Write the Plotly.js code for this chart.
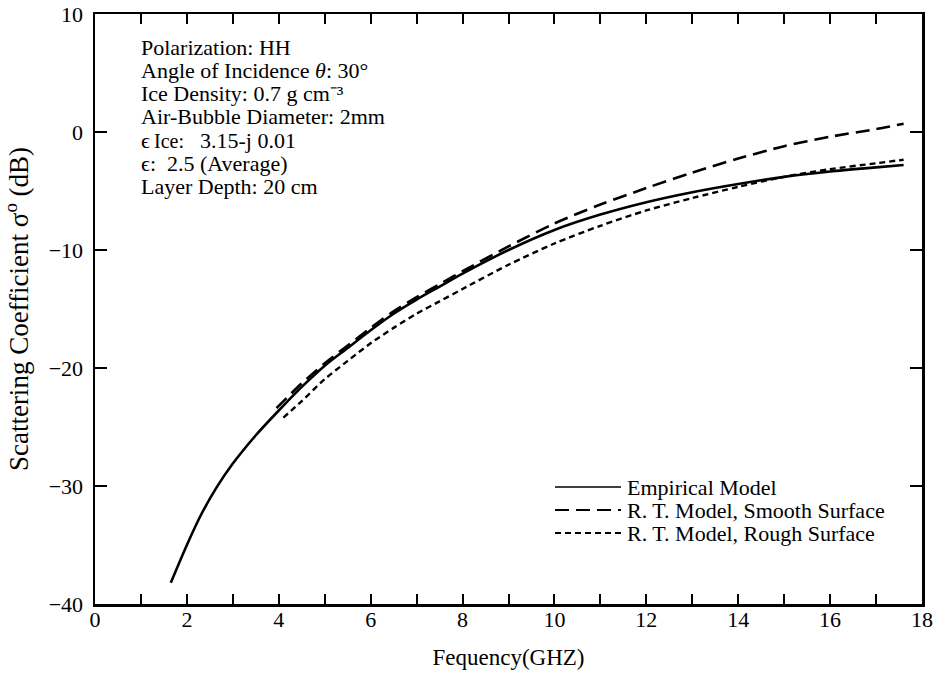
<!DOCTYPE html>
<html>
<head>
<meta charset="utf-8">
<script src="https://cdn.plot.ly/plotly-3.0.1.min.js"></script>
<style>html,body{margin:0;padding:0;background:#fff;}#chart{width:937px;height:678px;}</style>
</head>
<body>
<div id="chart"></div>
<script>
// Empirical model (solid)
const empFreq = [1.65, 2.0, 2.3, 2.65, 3.0, 3.5, 4.0, 4.5, 5.0, 5.5, 6.0, 6.5, 7.0, 7.5, 8.0, 9.0, 10.0, 11.0, 12.0, 13.0, 14.0, 15.0, 16.0, 17.0, 17.6];
const empSigma = [-38.2, -35.0, -32.5, -30.1, -28.1, -25.7, -23.6, -21.6, -19.8, -18.3, -16.8, -15.4, -14.2, -13.1, -12.0, -10.0, -8.3, -7.0, -5.95, -5.1, -4.4, -3.8, -3.35, -3.0, -2.8];
// R. T. model, smooth surface (long dash)
const smoothFreq = [3.95, 4.5, 5.0, 5.5, 6.0, 6.5, 7.0, 7.5, 8.0, 9.0, 10.0, 11.0, 12.0, 13.0, 14.0, 15.0, 16.0, 17.0, 17.6];
const smoothSigma = [-23.4, -21.3, -19.6, -18.1, -16.6, -15.2, -14.0, -12.9, -11.8, -9.7, -7.75, -6.15, -4.75, -3.45, -2.25, -1.2, -0.4, 0.25, 0.7];
// R. T. model, rough surface (short dash)
const roughFreq = [4.1, 4.5, 5.0, 5.5, 6.0, 6.5, 7.0, 7.5, 8.0, 9.0, 10.0, 11.0, 12.0, 13.0, 14.0, 15.0, 16.0, 17.0, 17.6];
const roughSigma = [-24.2, -22.8, -20.95, -19.4, -17.9, -16.6, -15.4, -14.35, -13.3, -11.25, -9.45, -7.95, -6.65, -5.6, -4.65, -3.8, -3.15, -2.65, -2.35];

const seriesNames = ["Empirical Model", "R. T. Model, Smooth Surface", "R. T. Model, Rough Surface"];
const seriesDash = ["solid", "14px,7px", "6px,4px"];
const yTickVals = [-40, -30, -20, -10, 0, 10];
const infoLines = [
  "Polarization: HH",
  "Angle of Incidence <i>θ</i>: 30°",
  "Ice Density: 0.7 g cm⁻³",
  "Air-Bubble Diameter: 2mm",
  null,
  "ϵ:  2.5 (Average)",
  "Layer Depth: 20 cm"
];
const iceParts = ["ϵ", "Ice:", "3.15-j 0.01"];

const serif = "'Liberation Serif', 'Times New Roman', serif";
const plotL = 95, plotW = 827, plotT = 14, plotH = 590;
const px2x = p => (p - plotL) / plotW;
const px2y = p => 1 - (p - plotT) / plotH;

const traces = [
  {x: empFreq, y: empSigma, name: seriesNames[0], mode: "lines",
   line: {color: "#000", width: 2.6, dash: seriesDash[0], shape: "spline", smoothing: 0.8}},
  {x: smoothFreq, y: smoothSigma, name: seriesNames[1], mode: "lines",
   line: {color: "#000", width: 2.6, dash: seriesDash[1], shape: "spline", smoothing: 0.8}},
  {x: roughFreq, y: roughSigma, name: seriesNames[2], mode: "lines",
   line: {color: "#000", width: 2.4, dash: seriesDash[2], shape: "spline", smoothing: 0.8}}
];

const txt = (t, xp, yp, size) => ({
  xref: "paper", yref: "paper", x: px2x(xp), y: px2y(yp),
  xanchor: "left", yanchor: "middle", text: t, showarrow: false,
  font: {family: serif, size: size, color: "#000"}
});

const annotations = [];
infoLines.forEach((t, i) => {
  if (t) annotations.push(txt(t, 139, 47 + i * 23.3, 22));
});
const iceY = 47 + 4 * 23.3;
annotations.push(txt(iceParts[0], 139, iceY, 22));
annotations.push(txt(iceParts[1], 152, iceY + 1, 20));
annotations.push(txt(iceParts[2], 198, iceY, 22));

// hand-drawn legend (key lines + real text)
const legendRows = [487, 510, 533];
const shapes = [];
seriesNames.forEach((n, i) => {
  shapes.push({type: "line", xref: "paper", yref: "paper",
    x0: px2x(555), x1: px2x(621), y0: px2y(legendRows[i]), y1: px2y(legendRows[i]),
    line: {color: "#000", width: i === 0 ? 1.6 : 2, dash: seriesDash[i]}});
  annotations.push(txt(n, 625, legendRows[i], 22));
});

const layout = {
  width: 937, height: 678,
  margin: {l: plotL, r: 937 - plotL - plotW, t: plotT, b: 678 - plotT - plotH},
  paper_bgcolor: "#fff", plot_bgcolor: "#fff",
  font: {family: serif, color: "#000", size: 20},
  showlegend: false,
  xaxis: {
    range: [0, 18], autorange: false,
    tickmode: "linear", tick0: 0, dtick: 2,
    ticks: "inside", ticklen: 10, tickwidth: 2, tickcolor: "#000",
    minor: {dtick: 1, ticks: "inside", ticklen: 10, tickwidth: 2, tickcolor: "#000", showgrid: false},
    showline: true, linecolor: "#000", linewidth: 2.5, mirror: "ticks",
    showgrid: false, zeroline: false,
    ticklabelstandoff: -6,
    tickfont: {family: serif, size: 22, color: "#000"},
    title: {text: "Fequency(GHZ)", font: {family: serif, size: 23, color: "#000"}, standoff: 18}
  },
  yaxis: {
    range: [-40, 10], autorange: false,
    tickmode: "array", tickvals: yTickVals,
    ticks: "inside", ticklen: 12, tickwidth: 2, tickcolor: "#000",
    showline: true, linecolor: "#000", linewidth: 2.5, mirror: "ticks",
    showgrid: false, zeroline: false,
    ticklabelstandoff: 5,
    tickfont: {family: serif, size: 22, color: "#000"},
    title: {text: "Scattering Coefficient σ<sup>o</sup> (dB)", font: {family: serif, size: 27, color: "#000"}, standoff: 12}
  },
  shapes: shapes,
  annotations: annotations
};

Plotly.newPlot("chart", traces, layout, {displayModeBar: false, staticPlot: true});
</script>
</body>
</html>
